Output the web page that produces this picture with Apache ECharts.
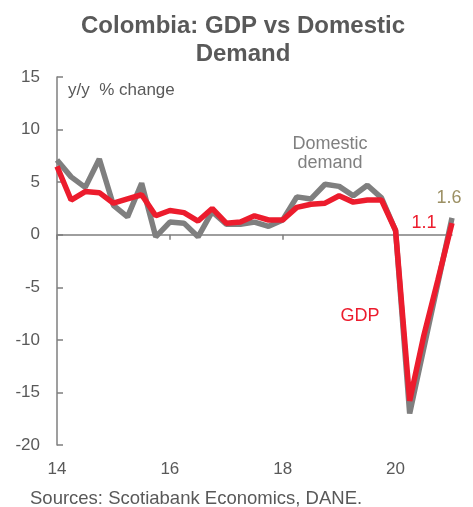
<!DOCTYPE html>
<html>
<head>
<meta charset="utf-8">
<script src="https://cdn.jsdelivr.net/npm/echarts@6/dist/echarts.min.js"></script>
<style>
  html, body { margin: 0; padding: 0; background: #fff; }
  #chart { width: 473px; height: 507px; }
</style>
</head>
<body>
<div id="chart"></div>
<script>
// quarters 2014Q1 .. 2021Q1
const quarters = [
  '2014Q1', '2014Q2', '2014Q3', '2014Q4',
  '2015Q1', '2015Q2', '2015Q3', '2015Q4',
  '2016Q1', '2016Q2', '2016Q3', '2016Q4',
  '2017Q1', '2017Q2', '2017Q3', '2017Q4',
  '2018Q1', '2018Q2', '2018Q3', '2018Q4',
  '2019Q1', '2019Q2', '2019Q3', '2019Q4',
  '2020Q1', '2020Q2', '2020Q3', '2020Q4',
  '2021Q1'
];
const domesticDemand = [
  7.1, 5.5, 4.5, 7.2, 2.8, 1.7, 4.9, -0.2,
  1.2, 1.1, -0.2, 2.2, 1.0, 1.0, 1.2, 0.8,
  1.4, 3.6, 3.4, 4.8, 4.6, 3.7, 4.7, 3.5,
  0.4, -17.0, -10.8, -4.6, 1.6
];
const gdp = [
  6.5, 3.3, 4.1, 4.0, 3.0, 3.4, 3.8, 1.8,
  2.3, 2.1, 1.3, 2.5, 1.1, 1.2, 1.8, 1.4,
  1.4, 2.6, 2.9, 3.0, 3.7, 3.1, 3.3, 3.3,
  0.4, -15.8, -9.6, -4.3, 1.1
];
const yTicks = { min: -20, max: 15, step: 5 };

const FONT = '"Liberation Sans", Arial, sans-serif';
const TEXT = '#595959';
const GREY = '#7f7f7f';
const RED = '#ec1c2d';

const yearTick = (i) => i % 8 === 0;

const chart = echarts.init(document.getElementById('chart'));
chart.setOption({
  animation: false,
  textStyle: { fontFamily: FONT },
  grid: { left: 57, right: 21, top: 77, bottom: 62 },
  xAxis: [
    {
      type: 'category',
      data: quarters,
      boundaryGap: false,
      position: 'bottom',
      axisLine: { show: false, onZero: false },
      axisTick: { show: false },
      axisLabel: {
        interval: yearTick,
        color: TEXT,
        fontSize: 17,
        margin: 16,
        formatter: (v) => v.slice(2, 4)
      },
      splitLine: { show: false }
    },
    {
      // zero line with the year ticks
      type: 'category',
      data: quarters,
      boundaryGap: false,
      position: 'bottom',
      axisLine: { show: true, onZero: true, lineStyle: { color: GREY, width: 1.5 } },
      axisTick: { show: true, interval: yearTick, length: 5, lineStyle: { color: GREY, width: 1.5 } },
      axisLabel: { show: false },
      splitLine: { show: false }
    }
  ],
  yAxis: {
    type: 'value',
    min: yTicks.min,
    max: yTicks.max,
    interval: yTicks.step,
    axisLine: { show: true, lineStyle: { color: GREY, width: 1.5 } },
    axisTick: { show: true, inside: true, length: 6, lineStyle: { color: GREY, width: 1.5 } },
    axisLabel: { color: TEXT, fontSize: 17, margin: 17 },
    splitLine: { show: false }
  },
  series: [
    {
      name: 'Domestic demand',
      type: 'line',
      data: domesticDemand,
      showSymbol: false,
      lineStyle: { color: GREY, width: 5.5 },
      z: 2
    },
    {
      name: 'GDP',
      type: 'line',
      data: gdp,
      showSymbol: false,
      lineStyle: { color: RED, width: 5.5 },
      z: 3
    }
  ],
  graphic: [
    {
      type: 'text', x: 243, y: 12,
      style: {
        text: 'Colombia: GDP vs Domestic\nDemand', fill: TEXT,
        font: 'bold 24px ' + FONT, align: 'center', lineHeight: 28
      }
    },
    {
      type: 'text', x: 68, y: 82,
      style: { text: 'y/y  % change', fill: TEXT, font: '17px ' + FONT }
    },
    {
      type: 'text', x: 330, y: 135,
      style: { text: 'Domestic\ndemand', fill: '#808080', font: '18px ' + FONT, align: 'center', lineHeight: 19 }
    },
    {
      type: 'text', x: 360, y: 307,
      style: { text: 'GDP', fill: RED, font: '18px ' + FONT, align: 'center' }
    },
    {
      type: 'text', x: 449, y: 189,
      style: { text: '1.6', fill: '#9c9064', font: '18px ' + FONT, align: 'center' }
    },
    {
      type: 'text', x: 424, y: 214,
      style: { text: '1.1', fill: RED, font: '18px ' + FONT, align: 'center' }
    },
    {
      type: 'text', x: 30, y: 489,
      style: { text: 'Sources: Scotiabank Economics, DANE.', fill: TEXT, font: '18.5px ' + FONT }
    }
  ]
});
</script>
</body>
</html>
